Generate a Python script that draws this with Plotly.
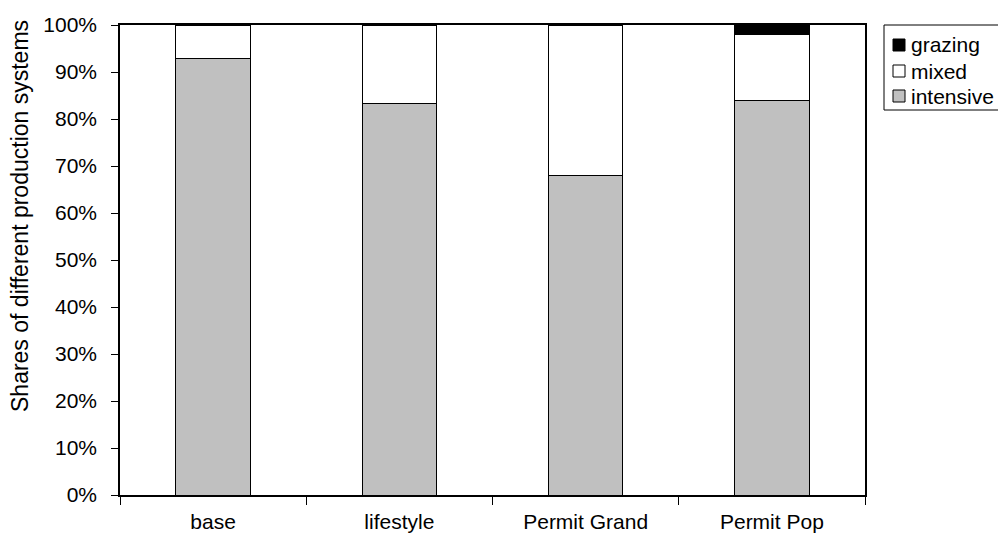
import plotly.graph_objects as go

categories = ["base", "lifestyle", "Permit Grand", "Permit Pop"]
intensive = [92.8, 83.2, 67.9, 84.0]
mixed = [7.2, 16.8, 32.1, 14.0]
grazing = [0.0, 0.0, 0.0, 2.0]
y_ticks = [0, 10, 20, 30, 40, 50, 60, 70, 80, 90, 100]
y_tick_labels = [f"{v}%" for v in y_ticks]

series = [("intensive", intensive, "#C0C0C0"),
          ("mixed", mixed, "white"),
          ("grazing", grazing, "black")]

font = "Liberation Sans, Arial, sans-serif"
fs = 21

# plot area in page pixels (page body has an 8px margin)
PL, PR, PT, PB = 120, 865, 25, 495
W, H = 1006, 543


def px_x(px):
    return (px - PL) / (PR - PL)


def px_y(py):
    return (PB - py) / (PB - PT)


fig = go.Figure()
for name, vals, color in series:
    fig.add_trace(go.Bar(x=categories, y=[v if v > 0 else None for v in vals], name=name,
                         showlegend=False,
                         marker=dict(color=color, line=dict(color="black", width=1))))

# manual legend (box, swatches, labels)
shapes = [dict(type="rect", xref="paper", yref="paper",
               x0=px_x(884), x1=px_x(1012), y0=px_y(110), y1=px_y(25),
               line=dict(color="black", width=1), fillcolor="white", layer="above")]
annotations = []
legend_rows = [("grazing", "black", 45), ("mixed", "white", 71), ("intensive", "#C0C0C0", 96)]
for name, color, cy in legend_rows:
    shapes.append(dict(type="rect", xref="paper", yref="paper",
                       x0=px_x(893), x1=px_x(905), y0=px_y(cy + 6), y1=px_y(cy - 6),
                       line=dict(color="black", width=1), fillcolor=color, layer="above"))
    annotations.append(dict(text=name, xref="paper", yref="paper", x=px_x(909), y=px_y(cy),
                            xanchor="left", yanchor="middle", showarrow=False,
                            font=dict(size=fs)))

# y axis title
annotations.append(dict(text="Shares of different production systems", xref="paper", yref="paper",
                        x=px_x(20), y=px_y(216), xanchor="center", yanchor="middle",
                        textangle=-90, showarrow=False, font=dict(size=23)))

fig.update_layout(
    barmode="stack",
    bargap=0.6,
    width=W, height=H,
    margin=dict(l=PL - 8, r=W - PR + 8, t=PT - 8, b=H - PB + 8, autoexpand=False),
    paper_bgcolor="white", plot_bgcolor="white",
    font=dict(family=font, size=fs, color="black"),
    showlegend=False,
    shapes=shapes,
    annotations=annotations,
    xaxis=dict(showline=True, linecolor="black", linewidth=1.5, mirror=True,
               ticks="outside", tickson="boundaries", ticklen=8, tickcolor="black",
               showgrid=False, tickfont=dict(size=fs), ticklabelstandoff=7),
    yaxis=dict(range=[0, 100], tickvals=y_ticks, ticktext=y_tick_labels,
               showline=True, linecolor="black", linewidth=1.5, mirror=True,
               ticks="outside", ticklen=7, tickcolor="black", showgrid=False,
               zeroline=False, tickfont=dict(size=fs), ticklabelstandoff=10),
)

fig.write_html("out.html")
